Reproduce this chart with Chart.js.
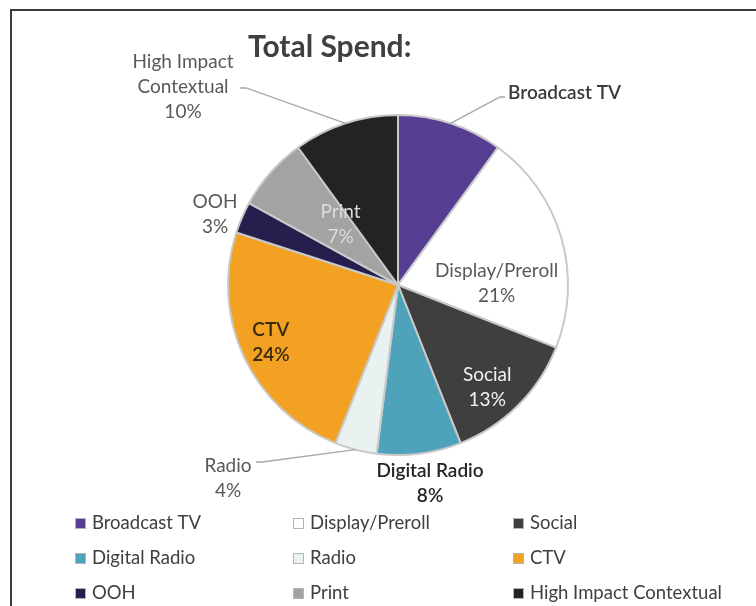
<!DOCTYPE html>
<html>
<head>
<meta charset="utf-8">
<script src="https://cdn.jsdelivr.net/npm/chart.js@4.4.1/dist/chart.umd.min.js"></script>
<style>
  html, body { margin: 0; padding: 0; background: #ffffff; }
  #wrap { position: relative; width: 756px; height: 606px; }
  canvas { display: block; }
</style>
</head>
<body>
<div id="wrap"><canvas id="spend" width="756" height="606"></canvas></div>
<script>
// Media channels and their share of total spend (percent)
const channels = ['Broadcast TV', 'Display/Preroll', 'Social', 'Digital Radio', 'Radio', 'CTV', 'OOH', 'Print', 'High Impact Contextual'];
const shares = [10, 21, 13, 8, 4, 24, 3, 7, 10];
const sliceColors = ['#563f93', '#ffffff', '#3f3f3f', '#4ea2b9', '#e9f1f1', '#f2a122', '#261f4d', '#a3a3a3', '#232323'];
const chartTitle = 'Total Spend:';

// Label text lines per slice (the pie shows two-line labels)
const labelLines = [
  ['Broadcast TV'],
  ['Display/Preroll', '21%'],
  ['Social', '13%'],
  ['Digital Radio', '8%'],
  ['Radio', '4%'],
  ['CTV', '24%'],
  ['OOH', '3%'],
  ['Print', '7%'],
  ['High Impact', 'Contextual', '10%']
];

const FONT = 'Lato, "Open Sans", sans-serif';

// Label placement: angle nudge (deg) from the arc's middle, radius as a fraction of the pie radius,
// optional leader line, text colour and weight.
const labelStyle = [
  { dAng: 0, rf: 1.0, leader: { bend: [500, 97], end: [505, 97] }, text: [508, 93], align: 'left', color: '#3a3a3a', bold: true },
  { dAng: 15, rf: 0.58, color: '#595959' },
  { dAng: 4, rf: 0.80, color: '#f2f2f2' },
  { dAng: -2, rf: 1.18, color: '#262626', bold: true },
  { dAng: 0, rf: 1.0, leader: { bend: [262, 462], end: [256, 462] }, text: [228, 466], align: 'center', color: '#595959' },
  { dAng: 1, rf: 0.82, color: '#3b2a10', bold: true },
  { dAng: 0, rf: 1.0, text: [215, 202], align: 'center', color: '#595959' },
  { dAng: 5, rf: 0.49, color: '#dcdcdc' },
  { dAng: 0, rf: 1.0, leader: { bend: [246, 88], end: [240, 88] }, text: [183, 62], align: 'center', color: '#595959' }
];

const frameAndTitle = {
  id: 'frameAndTitle',
  beforeDraw(chart) {
    const ctx = chart.ctx;
    ctx.save();
    ctx.fillStyle = '#ffffff';
    ctx.fillRect(0, 0, chart.width, chart.height);
    ctx.strokeStyle = '#3a3a3a';
    ctx.lineWidth = 2;
    ctx.beginPath();
    ctx.moveTo(11, chart.height + 2);
    ctx.lineTo(11, 10);
    ctx.lineTo(chart.width + 2, 10);
    ctx.stroke();
    ctx.fillStyle = '#404040';
    ctx.font = 'bold 30px ' + FONT;
    ctx.textBaseline = 'middle';
    ctx.textAlign = 'left';
    ctx.fillText(chartTitle, 248, 47);
    ctx.restore();
  }
};

const sliceLabels = {
  id: 'sliceLabels',
  afterDatasetsDraw(chart) {
    const ctx = chart.ctx;
    const arcs = chart.getDatasetMeta(0).data;
    ctx.save();
    arcs.forEach((arc, i) => {
      const st = labelStyle[i];
      const p = arc.getProps(['x', 'y', 'startAngle', 'endAngle', 'outerRadius'], true);
      const mid = (p.startAngle + p.endAngle) / 2 + st.dAng * Math.PI / 180;
      const r = p.outerRadius * st.rf;
      const ax = p.x + Math.cos(mid) * r;
      const ay = p.y + Math.sin(mid) * r;
      ctx.font = (st.bold ? '600 ' : '') + '19px ' + FONT;
      ctx.fillStyle = st.color;
      ctx.textBaseline = 'middle';
      const lines = labelLines[i];
      const lh = 25;
      if (st.leader) {
        ctx.strokeStyle = '#a8a8a8';
        ctx.lineWidth = 1.3;
        ctx.beginPath();
        ctx.moveTo(ax, ay);
        ctx.lineTo(st.leader.bend[0], st.leader.bend[1]);
        ctx.lineTo(st.leader.end[0], st.leader.end[1]);
        ctx.stroke();
      }
      if (st.text) {
        ctx.textAlign = st.align;
        lines.forEach((t, k) => ctx.fillText(t, st.text[0], st.text[1] + k * lh));
      } else {
        ctx.textAlign = 'center';
        const y0 = ay - (lines.length - 1) * lh / 2;
        lines.forEach((t, k) => ctx.fillText(t, ax, y0 + k * lh));
      }
    });
    ctx.restore();
  }
};

const gridLegend = {
  id: 'gridLegend',
  afterDraw(chart) {
    const ctx = chart.ctx;
    const ds = chart.data.datasets[0];
    const cols = [75, 293, 513];
    const rows = [523, 558, 593];
    ctx.save();
    ctx.font = '18.5px ' + FONT;
    ctx.textBaseline = 'middle';
    ctx.textAlign = 'left';
    chart.data.labels.forEach((lab, i) => {
      const x = cols[i % 3];
      const y = rows[Math.floor(i / 3)];
      ctx.fillStyle = ds.backgroundColor[i];
      ctx.fillRect(x, y - 5, 11, 11);
      ctx.strokeStyle = '#b5b5b5';
      ctx.lineWidth = 1;
      ctx.strokeRect(x + 0.5, y - 4.5, 10, 10);
      ctx.fillStyle = '#404040';
      ctx.fillText(lab, x + 17, y);
    });
    ctx.restore();
  }
};

new Chart(document.getElementById('spend'), {
  type: 'pie',
  data: {
    labels: channels,
    datasets: [{
      data: shares,
      backgroundColor: sliceColors,
      borderColor: '#c9c9c9',
      borderWidth: 2
    }]
  },
  options: {
    responsive: false,
    animation: false,
    rotation: 0,
    layout: { padding: { left: 227, right: 187, top: 114, bottom: 150 } },
    plugins: {
      legend: { display: false },
      tooltip: { enabled: false }
    }
  },
  plugins: [frameAndTitle, sliceLabels, gridLegend]
});
</script>
</body>
</html>
